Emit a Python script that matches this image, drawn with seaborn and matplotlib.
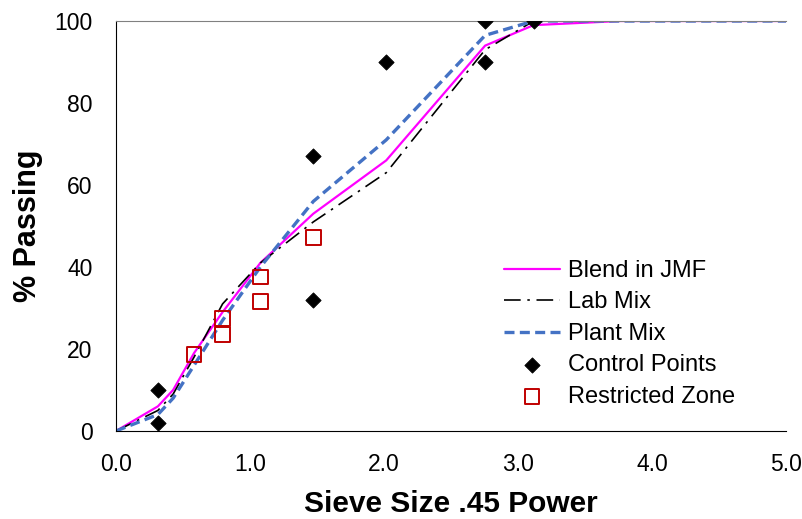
import numpy as np
import pandas as pd
import matplotlib
matplotlib.use("Agg")
import matplotlib.pyplot as plt
import seaborn as sns

sns.set_style("white")
plt.rcParams['font.family'] = ['Liberation Sans', 'DejaVu Sans']
plt.rcParams['text.color'] = 'black'
plt.rcParams['axes.labelcolor'] = 'black'

# Sieve sizes (x = size^0.45)
sieve_x = [0.0, 0.312, 0.426, 0.582, 0.795, 1.077, 1.472, 2.016, 2.754, 3.116, 3.762, 4.257, 5.11]
blend_jmf = [0, 6, 10, 19, 29, 41, 53, 66, 94, 99, 100, 100, 100]
lab_mix = [0, 5, 9, 18, 31, 41, 51, 63, 93, 100, 100, 100, 100]
plant_mix = [0, 4, 8, 16, 27, 40, 56, 71, 96.5, 100, 100, 100, 100]

control_x = [0.312, 0.312, 1.472, 1.472, 2.016, 2.754, 2.754, 3.116]
control_y = [2, 10, 32, 67, 90, 90, 100, 100]

restricted_x = [0.582, 0.795, 0.795, 1.077, 1.077, 1.472]
restricted_y = [18.7, 23.5, 27.5, 31.6, 37.6, 47.2]

fig = plt.figure(figsize=(8.03, 5.19), dpi=100)
ax = fig.add_axes([0.1445, 0.1696, 0.8345, 0.7899])

sns.lineplot(x=sieve_x, y=blend_jmf, ax=ax, color='#FF00FF', lw=1.6, label='Blend in JMF', sort=False)
sns.lineplot(x=sieve_x, y=lab_mix, ax=ax, color='black', lw=1.2, label='Lab Mix', sort=False)
ax.lines[-1].set_dashes((10, 4, 1.5, 4))
sns.lineplot(x=sieve_x, y=plant_mix, ax=ax, color='#4472C4', lw=2.4, label='Plant Mix', sort=False)
ax.lines[-1].set_dashes((3, 1.6))
sns.scatterplot(x=control_x, y=control_y, ax=ax, marker='D', color='black', s=60,
                edgecolor='black', label='Control Points', zorder=5)
sns.scatterplot(x=restricted_x, y=restricted_y, ax=ax, marker='s', facecolor='none',
                edgecolor='#C00000', linewidth=1.4, s=110, label='Restricted Zone', zorder=5)

ax.set_xlim(0, 5)
ax.set_ylim(0, 100)
ax.set_xticks([0, 1, 2, 3, 4, 5])
ax.set_xticklabels(['0.0', '1.0', '2.0', '3.0', '4.0', '5.0'])
ax.set_yticks([0, 20, 40, 60, 80, 100])
ax.tick_params(axis='both', direction='inout', length=12, width=1, labelsize=16.5,
               colors='black', labelcolor='black')
ax.tick_params(axis='x', pad=10)
ax.tick_params(axis='y', pad=11)

ax.spines['right'].set_visible(False)
ax.spines['top'].set_color('#808080')
ax.spines['left'].set_color('black')
ax.spines['bottom'].set_color('black')

ax.set_xlabel('Sieve Size .45 Power', fontsize=21.5, fontweight='bold', labelpad=10, color='black')
ax.set_ylabel('% Passing', fontsize=22, fontweight='bold', labelpad=8, color='black')

leg = ax.legend(loc='upper left', bbox_to_anchor=(0.565, 0.44), frameon=False, fontsize=17,
                handlelength=2.35, handletextpad=0.35, labelspacing=0.4, borderaxespad=0)
for t in leg.get_texts():
    t.set_color('black')

fig.savefig('out.png', dpi=100)
